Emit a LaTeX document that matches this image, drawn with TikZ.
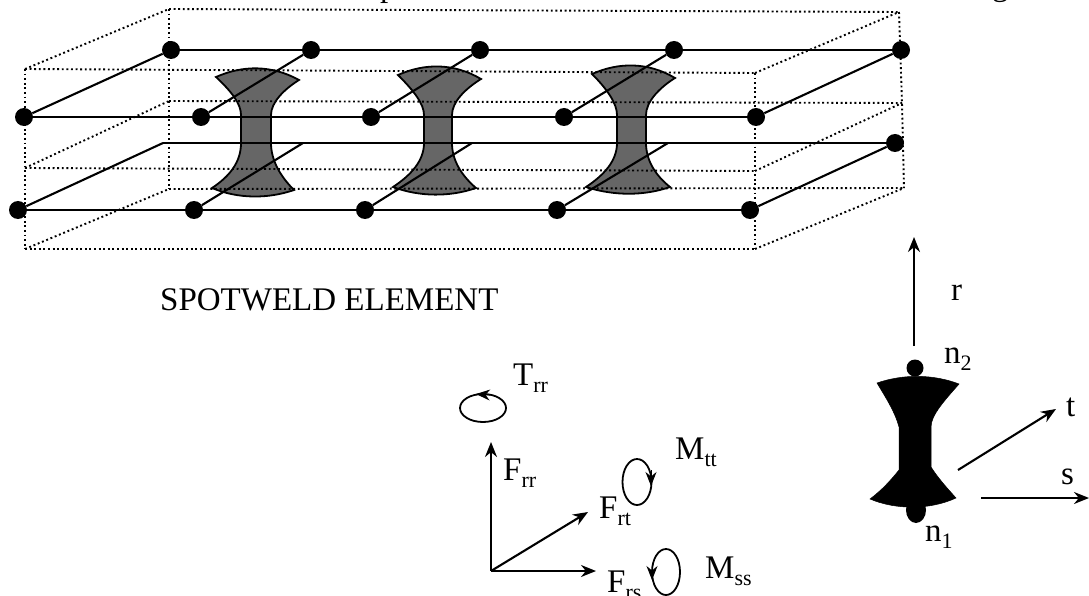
\documentclass[tikz,border=0pt]{standalone}
\usepackage{fontspec}
\setmainfont{Liberation Serif}
\usetikzlibrary{arrows.meta,shapes.geometric}
\newcommand{\withsub}[2]{#1\raisebox{-7pt}{\fontsize{22}{22}\selectfont #2}}
\tikzset{
  dotnode/.style={circle,fill=black,draw=none,minimum size=18pt,inner sep=0pt},
  dotline/.style={line width=1.9pt,dash pattern=on 1.9pt off 2.7pt,black},
  solidline/.style={line width=2.1pt,black},
  weldshape/.style={fill=black!60,draw=black,line width=1.8pt,line join=miter},
  blackweld/.style={fill=black,draw=black,line width=0.5pt},
  axisline/.style={line width=2.1pt,black,-{Stealth[length=15pt,width=12pt]}},
  tiphead/.style={line width=1pt,black,-{Stealth[length=14pt,width=11pt]}},
  loopnode/.style={ellipse,draw=black,line width=1.8pt,inner sep=0pt,fill=none},
  lbl/.style={anchor=base west,inner sep=0pt,font=\fontsize{33}{36}\selectfont}
}
\begin{document}
\begin{tikzpicture}[x=1pt,y=-1pt]
\useasboundingbox (0,0) rectangle (1089,596);
\clip (0,0) rectangle (1089,596);
\fill[white] (0,0) rectangle (1089,596);

% clipped remains of a caption above the picture
\node[lbl] (capP) at (380,-3) {p};
\node[lbl] (capG) at (992,-4) {g};

% welds
\path[weldshape] (216,77) .. controls (243,65) and (272,65) .. (299,80)
  .. controls (283,90) and (271,103) .. (271,115) -- (271,143)
  .. controls (271,160) and (280,176) .. (294,190)
  .. controls (268,199) and (238,199) .. (212,188)
  .. controls (230,176) and (241,162) .. (241,143) -- (241,115)
  .. controls (241,104) and (232,92) .. cycle;
\path[weldshape] (398,75) .. controls (425,63) and (454,63) .. (481,79)
  .. controls (465,89) and (452,102) .. (452,115) -- (452,143)
  .. controls (452,160) and (461,175) .. (476,188)
  .. controls (450,197) and (420,197) .. (393,187)
  .. controls (411,175) and (424,161) .. (424,143) -- (424,115)
  .. controls (424,104) and (414,91) .. cycle;
\path[weldshape] (592,74) .. controls (619,62) and (648,62) .. (675,78)
  .. controls (659,88) and (646,102) .. (646,115) -- (646,143)
  .. controls (646,160) and (655,175) .. (670,187)
  .. controls (644,196) and (614,196) .. (586,187)
  .. controls (604,175) and (617,161) .. (617,143) -- (617,115)
  .. controls (617,104) and (608,90) .. cycle;

% dotted boxes
\coordinate (bt1) at (169,9);  \coordinate (bt2) at (899,12);
\coordinate (ft1) at (25,69);   \coordinate (ft2) at (755,73);
\coordinate (bm1) at (169,101); \coordinate (bm2) at (902,103);
\coordinate (fm1) at (25,168);  \coordinate (fm2) at (755,171);
\coordinate (bb1) at (169,189); \coordinate (bb2) at (904,188);
\coordinate (fb1) at (25,249);  \coordinate (fb2) at (755,249);
\draw[dotline] (bt1) -- (bt2);
\draw[dotline] (ft1) -- (ft2);
\draw[dotline] (bm1) -- (bm2);
\draw[dotline] (fm1) -- (fm2);
\draw[dotline] (bb1) -- (bb2);
\draw[dotline] (fb1) -- (fb2);
\draw[dotline] (ft1) -- (fb1);
\draw[dotline] (bt1) -- (bb1);
\draw[dotline] (ft2) -- (fb2);
\draw[dotline] (bt2) -- (bm2) -- (bb2);
\draw[dotline] (ft1) -- (bt1);
\draw[dotline] (fm1) -- (bm1);
\draw[dotline] (fb1) -- (bb1);
\draw[dotline] (ft2) -- (bt2);
\draw[dotline] (fm2) -- (bm2);
\draw[dotline] (fb2) -- (bb2);

% grid nodes
\node[dotnode] (a1) at (171,50) {};
\node[dotnode] (a2) at (311,50) {};
\node[dotnode] (a3) at (480,50) {};
\node[dotnode] (a4) at (674,50) {};
\node[dotnode] (a5) at (901,50) {};
\node[dotnode] (b1) at (24,117) {};
\node[dotnode] (b2) at (201,117) {};
\node[dotnode] (b3) at (371,117) {};
\node[dotnode] (b4) at (564,117) {};
\node[dotnode] (b5) at (756,117) {};
\coordinate (c1) at (163,143);
\coordinate (c2) at (303,143);
\coordinate (c3) at (472,143);
\coordinate (c4) at (668,143);
\node[dotnode] (c5) at (895,143) {};
\node[dotnode] (d1) at (18,210) {};
\node[dotnode] (d2) at (194,210) {};
\node[dotnode] (d3) at (365,210) {};
\node[dotnode] (d4) at (557,210) {};
\node[dotnode] (d5) at (750,210) {};

\draw[solidline] (a1) -- (a5);
\draw[solidline] (b1) -- (b5);
\draw[solidline] (c1) -- (c5);
\draw[solidline] (d1) -- (d5);
\draw[solidline] (b1) -- (a1);
\draw[solidline] (b2) -- (a2);
\draw[solidline] (b3) -- (a3);
\draw[solidline] (b4) -- (a4);
\draw[solidline] (b5) -- (a5);
\draw[solidline] (d1) -- (c1);
\draw[solidline] (d2) -- (c2);
\draw[solidline] (d3) -- (c3);
\draw[solidline] (d4) -- (c4);
\draw[solidline] (d5) -- (c5);

\node[lbl] (title) at (160,310) {SPOTWELD ELEMENT};

% force system
\coordinate (o) at (491,571);
\coordinate (frrtip) at (491,442);
\coordinate (frstip) at (596,571);
\coordinate (frttip) at (588,512);
\draw[axisline] (o) -- (frrtip);
\draw[axisline] (o) -- (frstip);
\draw[axisline] (o) -- (frttip);
\node[lbl] (frr) at (503,480) {\withsub{F}{rr}};
\node[lbl] (frt) at (599,518) {\withsub{F}{rt}};
\node[lbl] (frs) at (607,592) {\withsub{F}{rs}};
\node[lbl] (trr) at (513,385) {\withsub{T}{rr}};
\node[lbl] (mtt) at (675,459) {\withsub{M}{tt}};
\node[lbl] (mss) at (705,578) {\withsub{M}{ss}};
\node[loopnode,minimum width=46pt,minimum height=28pt] (ltrr) at (483,408) {};
\node[loopnode,minimum width=29pt,minimum height=46pt] (lmtt) at (637,482) {};
\node[loopnode,minimum width=28pt,minimum height=46pt] (lmss) at (666,572) {};
\coordinate (h1a) at (490,395); \coordinate (h1b) at (476,394);
\coordinate (h2a) at (651,470); \coordinate (h2b) at (651,486);
\coordinate (h3a) at (652,564); \coordinate (h3b) at (652,580);
\draw[tiphead] (h1a) -- (h1b);
\draw[tiphead] (h2a) -- (h2b);
\draw[tiphead] (h3a) -- (h3b);

% local axes with black weld
\path[blackweld] (877,383) .. controls (903,374) and (933,374) .. (959,384)
  .. controls (945,400) and (931,415) .. (931,427) -- (931,467)
  .. controls (938,478) and (947,488) .. (956,498)
  .. controls (930,510) and (896,510) .. (870,499)
  .. controls (882,490) and (891,480) .. (899,470) -- (899,427)
  .. controls (895,412) and (886,398) .. cycle;
\node[ellipse,fill=black,draw=none,minimum width=20pt,minimum height=26pt,inner sep=0pt] (n1dot) at (916,510) {};
\node[dotnode,minimum size=17pt] (n2dot) at (915,368) {};
\coordinate (rbase) at (914,346);
\coordinate (rtip) at (914,237);
\coordinate (tbase) at (958,470);
\coordinate (ttip) at (1056,409);
\coordinate (sbase) at (981,498);
\coordinate (stip) at (1089,498);
\draw[axisline] (rbase) -- (rtip);
\draw[axisline] (tbase) -- (ttip);
\draw[axisline] (sbase) -- (stip);
\node[lbl] (rlbl) at (951,300) {r};
\node[lbl] (tlbl) at (1066,416) {t};
\node[lbl] (slbl) at (1061,484) {s};
\node[lbl] (n2lbl) at (944,363) {\withsub{n}{2}};
\node[lbl] (n1lbl) at (925,541) {\withsub{n}{1}};
\end{tikzpicture}
\end{document}
